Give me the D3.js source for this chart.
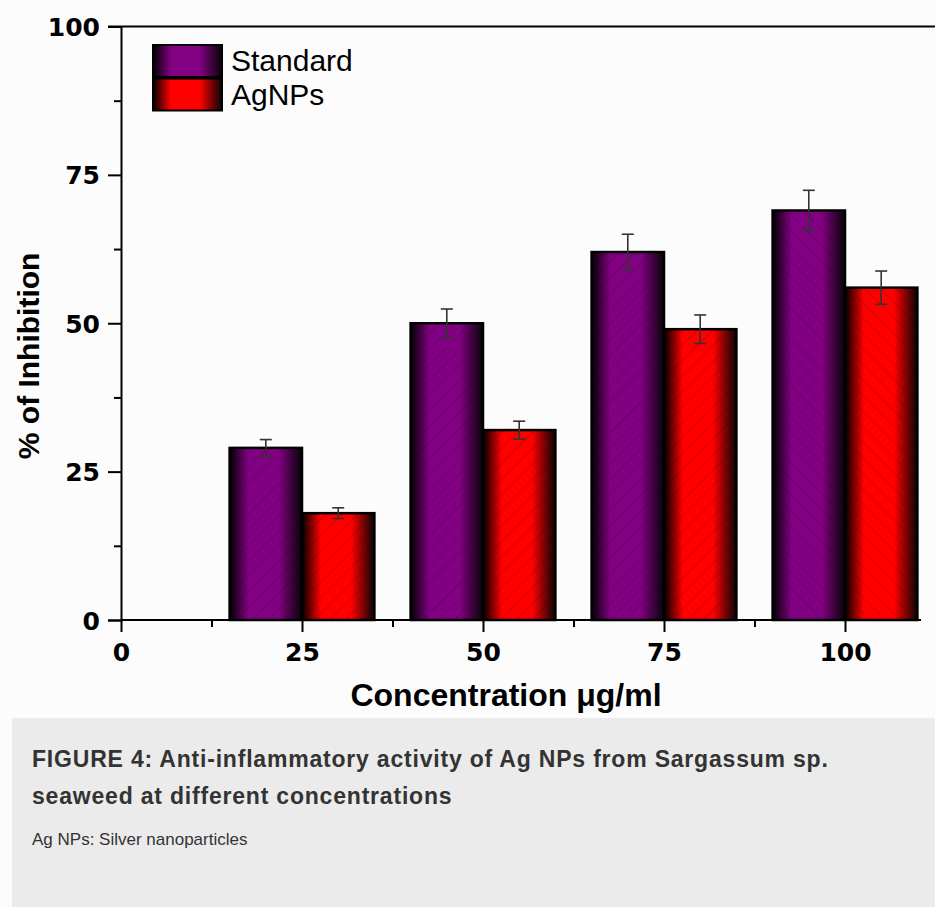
<!DOCTYPE html>
<html>
<head>
<meta charset="utf-8">
<script src="https://cdn.jsdelivr.net/npm/d3@7"></script>
<style>
  body { margin: 0; background: #fcfcfc; }
  svg { display: block; }
</style>
</head>
<body>
<div id="chart"></div>
<script>
// data
var concentrations = [25, 50, 75, 100]
var standardValues = [29, 50, 62, 69]
var standardErrors = [1.4, 2.4, 3.0, 3.4]
var agnpValues = [18, 32, 49, 56]
var agnpErrors = [0.9, 1.5, 2.4, 2.8]
var seriesNames = ['Standard', 'AgNPs']
var yTicks = [0, 25, 50, 75, 100]
var xTicks = [0, 25, 50, 75, 100]

var W = 935
var H = 907
var margin = { left: 121, top: 26.5 }
var plotBottom = 620

var svg = d3.select('#chart').append('svg')
  .attr('width', W)
  .attr('height', H)

var x = d3.scaleLinear().domain([0, 110.5]).range([margin.left, margin.left + 110.5 * 7.24])
var y = d3.scaleLinear().domain([0, 100]).range([plotBottom, margin.top])
var barW = 10

var defs = svg.append('defs')
var baseColors = ['#820082', '#ff0000']
baseColors.forEach(function (c, i) {
  var g = defs.append('linearGradient')
    .attr('id', 'grad' + i)
    .attr('x1', '0%').attr('x2', '100%')
    .attr('y1', '0%').attr('y2', '0%')
  g.append('stop').attr('offset', '0%').attr('stop-color', '#000')
  g.append('stop').attr('offset', '26%').attr('stop-color', c)
  g.append('stop').attr('offset', '68%').attr('stop-color', c)
  g.append('stop').attr('offset', '100%').attr('stop-color', '#050505')
})
// faint diagonal hatching, forward and backward
;[['fwd', 45], ['bwd', -45]].forEach(function (p) {
  defs.append('pattern')
    .attr('id', 'hatch-' + p[0])
    .attr('patternUnits', 'userSpaceOnUse')
    .attr('width', 11).attr('height', 11)
    .attr('patternTransform', 'rotate(' + p[1] + ')')
    .append('line')
    .attr('x1', 0).attr('y1', 0).attr('x2', 0).attr('y2', 11)
    .attr('stroke', 'rgba(0,0,0,0.2)')
    .attr('stroke-width', 1.5)
})

// caption panel
svg.append('rect')
  .attr('x', 12).attr('y', 718)
  .attr('width', W - 12).attr('height', H - 718)
  .attr('fill', '#ebebeb')

var capFont = 'Liberation Sans, Arial, sans-serif'
var caption = svg.append('g').attr('font-family', capFont).attr('fill', '#333')
caption.append('text').attr('x', 32).attr('y', 767)
  .attr('font-size', 23).attr('font-weight', 'bold').attr('letter-spacing', 0.8)
  .text('FIGURE 4: Anti-inflammatory activity of Ag NPs from Sargassum sp.')
caption.append('text').attr('x', 32).attr('y', 804)
  .attr('font-size', 23).attr('font-weight', 'bold').attr('letter-spacing', 0.8)
  .text('seaweed at different concentrations')
caption.append('text').attr('x', 32).attr('y', 845)
  .attr('font-size', 17)
  .text('Ag NPs: Silver nanoparticles')

// bars
var groups = [
  { values: standardValues, errors: standardErrors, offset: -barW, idx: 0 },
  { values: agnpValues, errors: agnpErrors, offset: 0, idx: 1 }
]

groups.forEach(function (s) {
  var rows = concentrations.map(function (c, j) {
    return { c: c, v: s.values[j], e: s.errors[j], j: j }
  })
  var gBars = svg.append('g')
  gBars.selectAll('rect.bar')
    .data(rows).enter().append('rect')
    .attr('class', 'bar')
    .attr('x', function (d) { return x(d.c + s.offset) })
    .attr('y', function (d) { return y(d.v) })
    .attr('width', function (d) { return x(d.c + s.offset + barW) - x(d.c + s.offset) })
    .attr('height', function (d) { return y(0) - y(d.v) })
    .attr('fill', 'url(#grad' + s.idx + ')')
  gBars.selectAll('rect.hatch')
    .data(rows).enter().append('rect')
    .attr('class', 'hatch')
    .attr('x', function (d) { return x(d.c + s.offset) })
    .attr('y', function (d) { return y(d.v) })
    .attr('width', function (d) { return x(d.c + s.offset + barW) - x(d.c + s.offset) })
    .attr('height', function (d) { return y(0) - y(d.v) })
    .attr('fill', function (d) { return d.j === 3 ? 'url(#hatch-bwd)' : 'url(#hatch-fwd)' })
    .attr('stroke', '#000')
    .attr('stroke-width', 2.5)

  var err = svg.append('g').attr('stroke', '#333').attr('stroke-width', 1.6)
  rows.forEach(function (d) {
    var cx = x(d.c + s.offset + barW / 2)
    err.append('line').attr('x1', cx).attr('x2', cx)
      .attr('y1', y(d.v + d.e)).attr('y2', y(d.v - d.e))
    err.append('line').attr('x1', cx - 6).attr('x2', cx + 6)
      .attr('y1', y(d.v + d.e)).attr('y2', y(d.v + d.e))
    err.append('line').attr('x1', cx - 6).attr('x2', cx + 6)
      .attr('y1', y(d.v - d.e)).attr('y2', y(d.v - d.e))
  })
})

// axes
var axisFont = 'Liberation Sans, Arial, sans-serif'
var tickFont = 'DejaVu Sans, sans-serif'
var yAxis = svg.append('g')
  .attr('transform', 'translate(' + margin.left + ',0)')
  .call(d3.axisLeft(y).tickValues(yTicks).tickSize(13).tickPadding(8))
var yMinor = svg.append('g')
  .attr('transform', 'translate(' + margin.left + ',0)')
  .call(d3.axisLeft(y).tickValues([12.5, 37.5, 62.5, 87.5]).tickSize(7).tickFormat(''))
var xAxis = svg.append('g')
  .attr('transform', 'translate(0,' + plotBottom + ')')
  .call(d3.axisBottom(x).tickValues(xTicks).tickSize(12).tickPadding(11))
var xMinor = svg.append('g')
  .attr('transform', 'translate(0,' + plotBottom + ')')
  .call(d3.axisBottom(x).tickValues([12.5, 37.5, 62.5, 87.5]).tickSize(7).tickFormat(''))

;[yAxis, yMinor, xAxis, xMinor].forEach(function (a) {
  a.select('.domain').attr('stroke', '#000').attr('stroke-width', 2)
  a.selectAll('.tick line').attr('stroke', '#000').attr('stroke-width', 2)
  a.selectAll('.tick text')
    .attr('font-family', tickFont)
    .attr('font-size', 25)
    .attr('font-weight', 'bold')
    .attr('fill', '#000')
})
xAxis.select('.domain').attr('d', 'M' + margin.left + ',0H' + (W - 14))
yMinor.select('.domain').remove()
xMinor.select('.domain').remove()
yAxis.selectAll('.tick text').attr('dy', '0.36em')

// top frame line
svg.append('line')
  .attr('x1', margin.left - 13).attr('x2', W)
  .attr('y1', y(100)).attr('y2', y(100))
  .attr('stroke', '#000').attr('stroke-width', 2)

// axis titles
svg.append('text')
  .attr('x', 506).attr('y', 706)
  .attr('text-anchor', 'middle')
  .attr('font-family', axisFont).attr('font-size', 32).attr('font-weight', 'bold')
  .text('Concentration \u03bcg/ml')
svg.append('text')
  .attr('transform', 'translate(39,' + y(44.5) + ') rotate(-90)')
  .attr('text-anchor', 'middle')
  .attr('font-family', axisFont).attr('font-size', 30).attr('font-weight', 'bold')
  .text('% of Inhibition')

// legend
var legend = svg.append('g').attr('transform', 'translate(153,45)')
seriesNames.forEach(function (name, i) {
  legend.append('rect')
    .attr('x', 0).attr('y', i * 33.5)
    .attr('width', 69).attr('height', 32)
    .attr('fill', 'url(#grad' + i + ')')
    .attr('stroke', '#000').attr('stroke-width', 2)
  legend.append('text')
    .attr('x', 78).attr('y', i * 33.5 + 26)
    .attr('font-family', axisFont).attr('font-size', 30)
    .attr('fill', '#000')
    .text(name)
})
</script>
</body>
</html>
